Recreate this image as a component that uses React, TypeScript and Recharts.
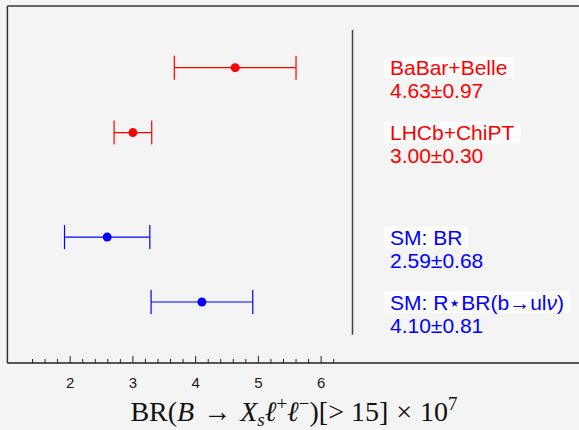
import React, { useLayoutEffect, useRef, useState } from 'react';
import { ScatterChart, Scatter, XAxis, YAxis, ErrorBar, ReferenceLine } from 'recharts';

// measurements, top row first
const names = ['BaBar+Belle', 'LHCb+ChiPT', 'SM: BR', 'SM: R\u22C6BR(b\u2192ul\u03BD)'];
const values = [4.63, 3.0, 2.59, 4.1];
const errors = [0.97, 0.3, 0.68, 0.81];
const valueTexts = ['4.63\u00B10.97', '3.00\u00B10.30', '2.59\u00B10.68', '4.10\u00B10.81'];
const groups = ['exp', 'exp', 'sm', 'sm'];
// vertical slot of each row on the (hidden) y scale
const rows = [4.55, 3.55, 1.94, 0.94];

const xTicks = [
  1.4, 1.6, 1.8, 2, 2.2, 2.4, 2.6, 2.8, 3, 3.2, 3.4, 3.6, 3.8, 4, 4.2, 4.4, 4.6, 4.8, 5,
  5.2, 5.4, 5.6, 5.8, 6, 6.2,
];

const COLORS: Record<string, string> = { exp: '#ff0000', sm: '#0000ff' };
const BG = '#f4f4f4';
const SANS = '"Liberation Sans", Arial, Helvetica, sans-serif';
const SERIF = '"Liberation Serif", "Times New Roman", serif';

const table = names.map((name, i) => ({
  name,
  x: values[i],
  err: errors[i],
  y: rows[i],
  text: valueTexts[i],
  group: groups[i],
}));

const NameText = ({ name }: { name: string }) => {
  // greek nu is set in italics
  const parts = name.split('\u03BD');
  if (parts.length === 1) return <>{name}</>;
  return (
    <>
      <tspan>{parts[0]}</tspan>
      <tspan fontStyle="italic">{'\u03BD'}</tspan>
      <tspan>{parts[1]}</tspan>
    </>
  );
};

const LabelBlock = ({ cy, name, text, color }: any) => {
  const ref = useRef<SVGTextElement>(null);
  const [w, setW] = useState(0);
  useLayoutEffect(() => {
    if (ref.current) setW(ref.current.getBBox().width);
  }, [name]);
  return (
    <g>
      {w > 0 && <rect x={384} y={cy - 11} width={w + 12} height={22} fill="#fdfdfd" />}
      <text ref={ref} x={390} y={cy} dy="0.36em" fill={color} fontSize={21} fontFamily={SANS}>
        <NameText name={name} />
      </text>
      <text x={390} y={cy + 23} dy="0.36em" fill={color} fontSize={21} fontFamily={SANS}>
        {text}
      </text>
    </g>
  );
};

const PointShape = (props: any) => {
  const { cx, cy, payload } = props;
  const color = COLORS[payload.group];
  return (
    <g>
      <circle cx={cx} cy={cy} r={4.5} fill={color} />
      <LabelBlock cy={cy} name={payload.name} text={payload.text} color={color} />
    </g>
  );
};

const renderTick = (props: any) => {
  const { x, y, payload } = props;
  const major = Number.isInteger(payload.value);
  return (
    <g>
      <line x1={x} x2={x} y1={y} y2={y - (major ? 7 : 4)} stroke="#222" strokeWidth={1} />
      {major && (
        <text x={x} y={y + 24.5} textAnchor="middle" fontSize={15} fontFamily={SANS} fill="#1a1a1a">
          {payload.value}
        </text>
      )}
    </g>
  );
};

export default function App() {
  const expData = table.filter((d) => d.group === 'exp');
  const smData = table.filter((d) => d.group === 'sm');
  return (
    <div style={{ position: 'relative', width: 579, height: 430, overflow: 'hidden', background: BG }}>
      <style>{`body{margin:0;background:${BG};}`}</style>
      <ScatterChart width={610} height={430} margin={{ top: 6, right: 6.5, left: 7.4, bottom: 0 }}>
        <XAxis
          dataKey="x"
          type="number"
          domain={[1, 10.5]}
          ticks={xTicks}
          interval={0}
          tickSize={0}
          tickMargin={0}
          tickLine={false}
          height={67}
          allowDataOverflow
          axisLine={{ stroke: '#222', strokeWidth: 1.5 }}
          tick={renderTick}
        />
        <YAxis dataKey="y" type="number" domain={[0, 5.5]} hide allowDataOverflow />
        <ReferenceLine y={5.5} stroke="#666" strokeWidth={2} />
        <ReferenceLine x={1} stroke="#333" strokeWidth={1.5} />
        <ReferenceLine
          segment={[
            { x: 6.5, y: 0.435 },
            { x: 6.5, y: 5.13 },
          ]}
          stroke="#444"
          strokeWidth={1.5}
        />
        <Scatter data={expData} shape={PointShape} isAnimationActive={false}>
          <ErrorBar dataKey="err" direction="x" width={12} stroke={COLORS.exp} strokeWidth={1.2} isAnimationActive={false} />
        </Scatter>
        <Scatter data={smData} shape={PointShape} isAnimationActive={false}>
          <ErrorBar dataKey="err" direction="x" width={12} stroke={COLORS.sm} strokeWidth={1.2} isAnimationActive={false} />
        </Scatter>
      </ScatterChart>
      <svg width={579} height={430} style={{ position: 'absolute', left: 0, top: 0, pointerEvents: 'none' }}>
        <text x={294} y={421} textAnchor="middle" fontSize={28} fontFamily={SERIF} fill="#111">
          BR(<tspan fontStyle="italic">B</tspan>
          <tspan dx={9}>{'\u2192'}</tspan>
          <tspan fontStyle="italic" dx={9}>X</tspan>
          <tspan fontStyle="italic" fontSize={19} dy={5}>s</tspan>
          <tspan fontStyle="italic" dy={-5}>{'\u2113'}</tspan>
          <tspan fontSize={19} dy={-11}>+</tspan>
          <tspan fontStyle="italic" dy={11}>{'\u2113'}</tspan>
          <tspan fontSize={19} dy={-11}>{'\u2212'}</tspan>
          <tspan dy={11}>)[{'>'}</tspan>
          <tspan dx={7}>15]</tspan>
          <tspan dx={8}>{'\u00D7'}</tspan>
          <tspan dx={8}>10</tspan>
          <tspan fontSize={19} dy={-11}>7</tspan>
        </text>
      </svg>
    </div>
  );
}
